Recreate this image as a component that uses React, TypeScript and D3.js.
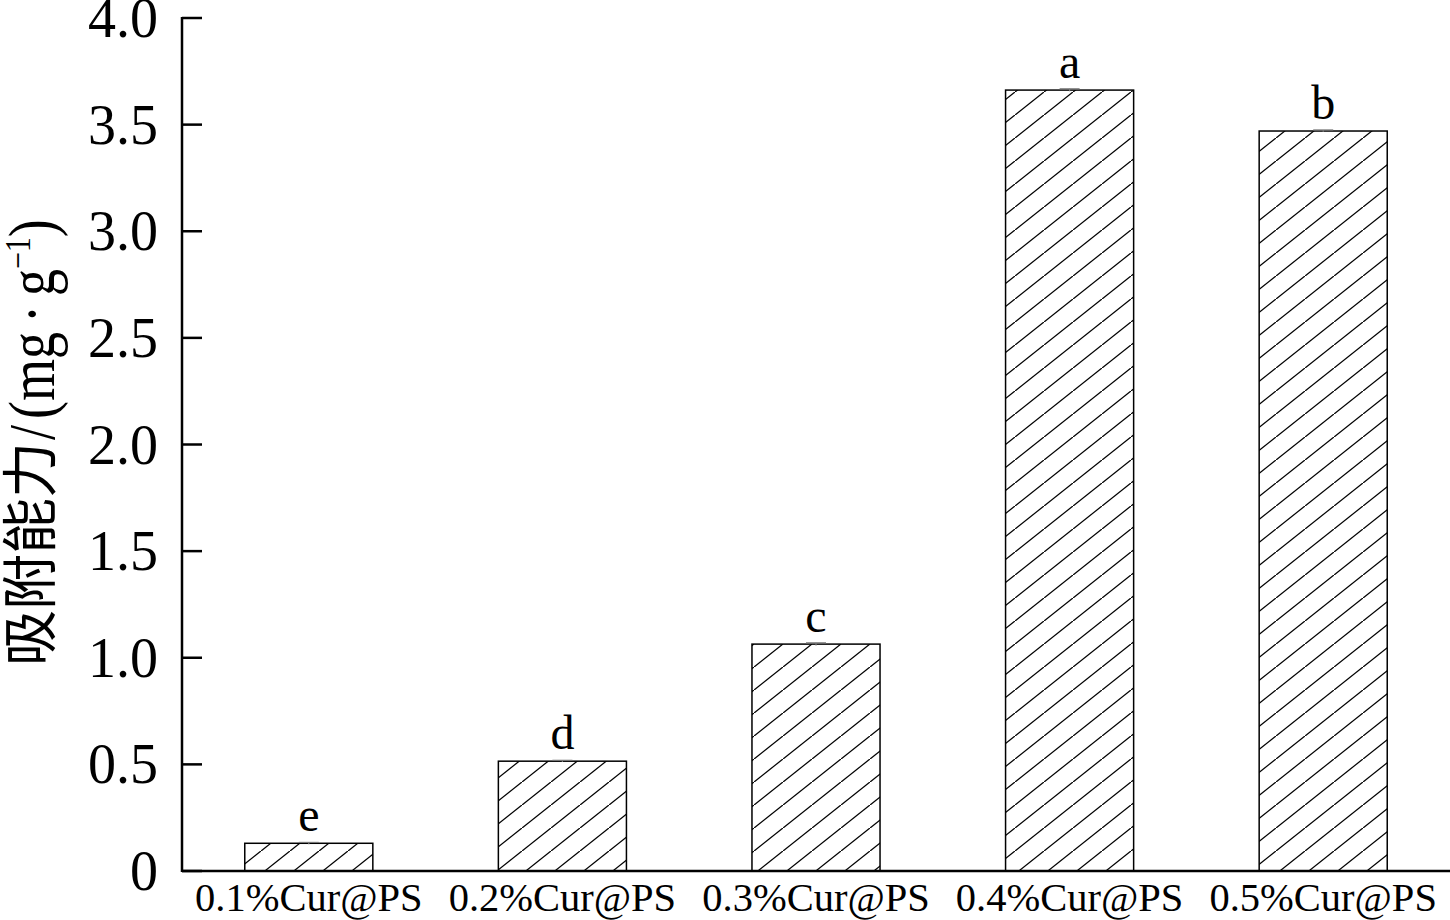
import React from "react";
import * as d3 from "d3";

const categories = ["0.1%Cur@PS", "0.2%Cur@PS", "0.3%Cur@PS", "0.4%Cur@PS", "0.5%Cur@PS"];
const values = [0.13, 0.515, 1.064, 3.662, 3.47];
const errors = [0.004, 0.004, 0.006, 0.006, 0.005];
const letters = ["e", "d", "c", "a", "b"];
const yTicks = [0, 0.5, 1.0, 1.5, 2.0, 2.5, 3.0, 3.5, 4.0];

const W = 1450;
const H = 920;
const left = 182;
const right = 1450;
const top = 18;
const bottom = 871;
const serif = "'Liberation Serif', 'Times New Roman', serif";

export default function App() {
  const x = d3
    .scaleBand<string>()
    .domain(categories)
    .range([left, right])
    .paddingInner(0.495)
    .paddingOuter(0.2475);
  const y = d3.scaleLinear().domain([0, 4]).range([bottom, top]);

  return (
    <div style={{ position: "absolute", left: 0, top: 0, width: W, height: H, background: "#fff" }}>
      <svg width={W} height={H} style={{ display: "block" }}>
        <defs>
          <pattern id="hatch" patternUnits="userSpaceOnUse" width={29} height={23}>
            <path d="M-2.9,25.3 L31.9,-2.3" stroke="#000" strokeWidth={1.3} />
          </pattern>
        </defs>
        {categories.map((c, i) => {
          const bx = x(c)!;
          const bw = x.bandwidth();
          const yv = y(values[i]);
          const cx = bx + bw / 2;
          return (
            <g key={c}>
              <rect x={bx} y={yv} width={bw} height={bottom - yv} fill="url(#hatch)" stroke="#000" strokeWidth={1.5} />
              <line x1={cx} x2={cx} y1={y(values[i] + errors[i])} y2={y(values[i] - errors[i])} stroke="#777" strokeWidth={1.2} />
              <line x1={cx - 10} x2={cx + 10} y1={y(values[i] + errors[i])} y2={y(values[i] + errors[i])} stroke="#777" strokeWidth={1.2} />
              <text x={cx} y={yv - 12} textAnchor="middle" fontFamily={serif} fontSize={48}>
                {letters[i]}
              </text>
              <text x={cx} y={911} textAnchor="middle" fontFamily={serif} fontSize={40.5}>
                {c}
              </text>
            </g>
          );
        })}
        <line x1={left} x2={right} y1={bottom} y2={bottom} stroke="#000" strokeWidth={2.5} />
        <line x1={left} x2={left} y1={top - 1} y2={bottom + 1} stroke="#000" strokeWidth={2.5} />
        {yTicks.map((t) => (
          <g key={t}>
            <line x1={left} x2={left + 20} y1={y(t)} y2={y(t)} stroke="#000" strokeWidth={2.5} />
            <text x={158} y={y(t) + 19} textAnchor="end" fontFamily={serif} fontSize={56}>
              {t === 0 ? "0" : t.toFixed(1)}
            </text>
          </g>
        ))}
        <g transform="translate(54,666) rotate(-90)">
          <text x={0} y={-4} fontFamily="'Noto Sans CJK SC', sans-serif" fontSize={56}>
            吸附能力
          </text>
          <text transform="translate(226,0) scale(1,1.2)" fontFamily={serif} fontSize={54}>
            <tspan>/</tspan>
            <tspan dx={6}>(mg</tspan>
            <tspan dx={9}>·</tspan>
            <tspan dx={9}>g</tspan>
            <tspan fontSize={30} dy={-20}>−1</tspan>
            <tspan dy={20}>)</tspan>
          </text>
        </g>
      </svg>
    </div>
  );
}
